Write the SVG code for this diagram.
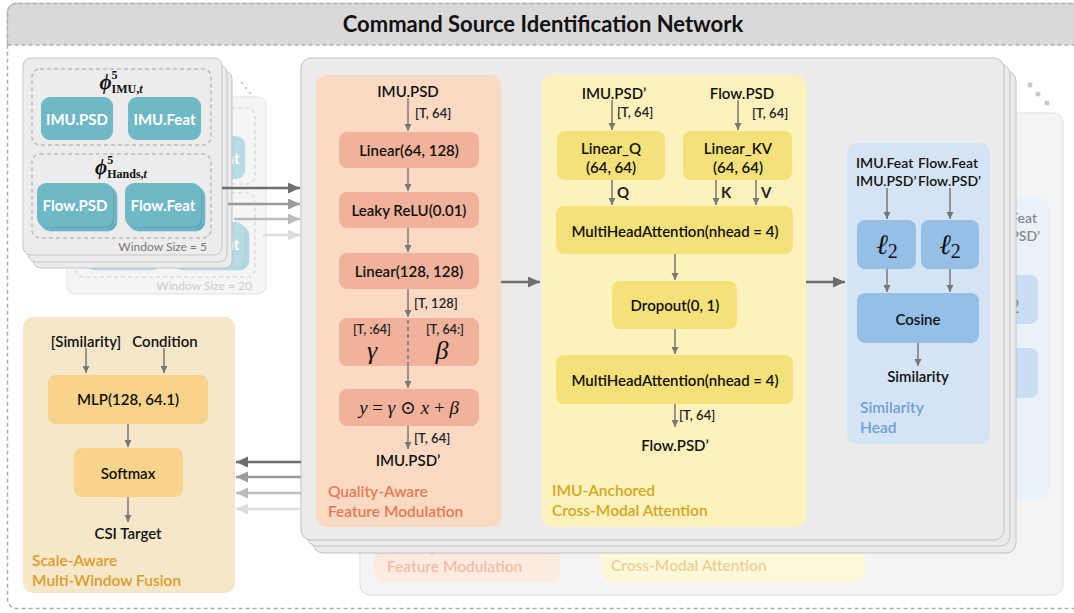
<svg xmlns="http://www.w3.org/2000/svg" xmlns:xlink="http://www.w3.org/1999/xlink" width="1074" height="613" viewBox="0 0 1074 613">
  <defs>
    <style>
      text { font-family: Lato, "Noto Sans", "DejaVu Sans", sans-serif; }
      .t { font-size: 15px; font-weight: 600; fill: #111; text-anchor: middle; dominant-baseline: central; }
      .tl { font-size: 14px; font-weight: 600; fill: #111; text-anchor: start; dominant-baseline: central; }
      .s { font-size: 13px; font-weight: 600; fill: #222; dominant-baseline: central; }
      .sc { font-size: 12.5px; font-weight: 600; fill: #222; text-anchor: middle; dominant-baseline: central; }
      .qkv { font-size: 15px; font-weight: 700; fill: #222; dominant-baseline: central; }
      .w { font-size: 15px; font-weight: 700; fill: #fff; text-anchor: middle; dominant-baseline: central; }
      .ttl { font-size: 15.5px; font-weight: 600; dominant-baseline: central; }
      .m { font-family: "Liberation Serif", "DejaVu Serif", serif; font-style: italic; fill: #111; }
      .dash { fill: none; stroke: #bdbdbd; stroke-width: 1.5; stroke-dasharray: 4 3; }
      .card { fill: #ececec; stroke: #c6c6c6; stroke-width: 1; }
      .teal { fill: #6fb8c6; }
      .teal2 { fill: #5ea8b7; stroke: #8cc8d3; stroke-width: 0.8; }
      .panel { fill: #ebebeb; stroke: #c2c2c2; stroke-width: 1; }
      .o-box { fill: #f1b29b; }
      .y-box { fill: #f5e17a; }
      .b-box { fill: #95bfe7; }
      .f-box { fill: #f8d38b; }
      .arr { fill: none; stroke: #777; stroke-width: 1.5; marker-end: url(#ah); }
      .big { fill: none; stroke-width: 2.5; }
    </style>
    <marker id="ah" markerUnits="userSpaceOnUse" markerWidth="8" markerHeight="8" refX="7" refY="3.5" orient="auto">
      <path d="M0,0 L7,3.5 L0,7 Z" fill="#777"/>
    </marker>
    <marker id="bh1" markerUnits="userSpaceOnUse" markerWidth="13" markerHeight="12" refX="12" refY="5.5" orient="auto">
      <path d="M0,0 L12,5.5 L0,11 Z" fill="#6e6e6e"/>
    </marker>
    <marker id="bh2" markerUnits="userSpaceOnUse" markerWidth="13" markerHeight="12" refX="12" refY="5.5" orient="auto">
      <path d="M0,0 L12,5.5 L0,11 Z" fill="#9a9a9a"/>
    </marker>
    <marker id="bh3" markerUnits="userSpaceOnUse" markerWidth="13" markerHeight="12" refX="12" refY="5.5" orient="auto">
      <path d="M0,0 L12,5.5 L0,11 Z" fill="#bcbcbc"/>
    </marker>
    <marker id="bh4" markerUnits="userSpaceOnUse" markerWidth="13" markerHeight="12" refX="12" refY="5.5" orient="auto">
      <path d="M0,0 L12,5.5 L0,11 Z" fill="#dcdcdc"/>
    </marker>
  </defs>

  <!-- outer frame with title band -->
  <g id="frame">
    <rect x="7.5" y="3.5" width="1080" height="605" rx="9" fill="#fff" stroke="#b0b0b0" stroke-width="1.5" stroke-dasharray="4 3"/>
    <path d="M7.5,45 V12.5 a9,9 0 0 1 9,-9 H1088 V45 Z" fill="#d9d9d9"/>
    <path d="M7.5,45 V12.5 a9,9 0 0 1 9,-9 H1088" fill="none" stroke="#b0b0b0" stroke-width="1.5" stroke-dasharray="4 3"/>
    <line x1="7.5" y1="45" x2="1074" y2="45" stroke="#b0b0b0" stroke-width="1.5" stroke-dasharray="4 3"/>
    <text x="543" y="23" text-anchor="middle" dominant-baseline="central" font-size="22" font-weight="700" fill="#111">Command Source Identification Network</text>
  </g>

  <!-- window size 20 input (behind) -->
  <g id="window-20" opacity="0.5">
    <use xlink:href="#window-5-body" transform="translate(44,39)"/>
    <text x="252" y="285" text-anchor="end" dominant-baseline="central" font-size="12" fill="#999">Window Size = 20</text>
  </g>
  <circle cx="242" cy="83" r="1.3" fill="#cfcfcf"/>
  <circle cx="246" cy="88" r="1.3" fill="#cfcfcf"/>
  <circle cx="250" cy="93" r="1.3" fill="#cfcfcf"/>

  <!-- window size 5 input stack -->
  <rect class="card" x="33" y="71" width="199" height="197" rx="8"/>
  <rect class="card" x="28" y="65" width="199" height="197" rx="8"/>
  <g id="window-5">
    <g id="window-5-body">
      <rect class="card" x="23" y="58" width="199" height="197" rx="8"/>
      <rect class="dash" x="32" y="69" width="179" height="76" rx="8"/>
      <text class="m" x="121" y="89" text-anchor="middle" font-weight="700"><tspan font-size="21">ϕ</tspan><tspan font-size="12" font-style="normal" dy="-10">5</tspan><tspan font-size="12" font-style="normal" dx="-6" dy="14">IMU,</tspan><tspan font-size="12">t</tspan></text>
      <g id="imu-psd">
        <rect class="teal" x="41" y="97" width="72" height="43" rx="9"/>
        <text class="w" x="77" y="119">IMU.PSD</text>
      </g>
      <g id="imu-feat">
        <rect class="teal" x="128" y="97" width="73" height="43" rx="9"/>
        <text class="w" x="164.5" y="119">IMU.Feat</text>
      </g>
      <rect class="dash" x="32" y="154" width="179" height="84" rx="8"/>
      <text class="m" x="121" y="174" text-anchor="middle" font-weight="700"><tspan font-size="21">ϕ</tspan><tspan font-size="12" font-style="normal" dy="-10">5</tspan><tspan font-size="12" font-style="normal" dx="-6" dy="14">Hands,</tspan><tspan font-size="12">t</tspan></text>
      <g id="flow-psd">
        <rect class="teal2" x="41" y="187" width="76" height="44" rx="9"/>
        <rect class="teal2" x="39" y="185" width="76" height="44" rx="9"/>
        <rect class="teal" x="37" y="183" width="76" height="44" rx="9"/>
        <text class="w" x="75" y="205">Flow.PSD</text>
      </g>
      <g id="flow-feat">
        <rect class="teal2" x="129" y="187" width="76" height="44" rx="9"/>
        <rect class="teal2" x="127" y="185" width="76" height="44" rx="9"/>
        <rect class="teal" x="125" y="183" width="76" height="44" rx="9"/>
        <text class="w" x="163" y="205">Flow.Feat</text>
      </g>
    </g>
    <text x="207" y="246" text-anchor="end" dominant-baseline="central" font-size="12" fill="#777">Window Size = 5</text>
  </g>

  <!-- network copies for the other window sizes (behind) -->
  <g id="csi-core-20" opacity="0.5">
    <use xlink:href="#csi-core" transform="translate(59,55)"/>
  </g>
  <circle cx="1030" cy="85" r="2.5" fill="#c8c8c8"/>
  <circle cx="1038" cy="94" r="2.5" fill="#c8c8c8"/>
  <circle cx="1047" cy="103" r="2.5" fill="#c8c8c8"/>
  <rect class="panel" x="313" y="71" width="703" height="482" rx="10" stroke="#b8b8b8"/>
  <rect class="panel" x="307" y="64" width="703" height="482" rx="10" stroke="#b8b8b8"/>

  <!-- main network -->
  <g id="csi-core">
    <rect class="panel" x="301" y="58" width="703" height="482" rx="10"/>

    <g id="qafm">
      <rect x="316" y="75" width="185" height="452" rx="10" fill="#fcd9c2"/>
      <text class="t" x="408" y="91">IMU.PSD</text>
      <g id="qafm-linear1">
        <rect class="o-box" x="339" y="132" width="140" height="36" rx="8"/>
        <text class="t" x="409" y="150">Linear(64, 128)</text>
      </g>
      <g id="qafm-relu">
        <rect class="o-box" x="339" y="192" width="140" height="36" rx="8"/>
        <text class="t" x="409" y="210">Leaky ReLU(0.01)</text>
      </g>
      <g id="qafm-linear2">
        <rect class="o-box" x="339" y="253" width="140" height="36" rx="8"/>
        <text class="t" x="409" y="271">Linear(128, 128)</text>
      </g>
      <g id="qafm-split">
        <rect class="o-box" x="339" y="318" width="140" height="48" rx="8"/>
        <line x1="408" y1="320" x2="408" y2="366" stroke="#888" stroke-width="2" stroke-dasharray="4 3"/>
        <text class="sc" x="372" y="329">[T, :64]</text>
        <text class="m" x="372" y="359" text-anchor="middle" font-size="26">γ</text>
        <text class="sc" x="445" y="329">[T, 64:]</text>
        <text class="m" x="442" y="359" text-anchor="middle" font-size="26">β</text>
      </g>
      <g id="qafm-film">
        <rect class="o-box" x="339" y="389" width="140" height="37" rx="8"/>
        <text class="m" x="409" y="414" text-anchor="middle" font-size="19">y <tspan font-style="normal">=</tspan> γ <tspan font-style="normal">⊙</tspan> x <tspan font-style="normal">+</tspan> β</text>
      </g>
      <text class="t" x="408" y="460">IMU.PSD’</text>
      <text class="ttl" x="328" y="491" fill="#e27b55">Quality-Aware</text>
      <text class="ttl" x="328" y="511" fill="#e27b55">Feature Modulation</text>
    </g>

    <g id="imca">
      <rect x="542" y="75" width="264" height="452" rx="10" fill="#fdf2bb"/>
      <text class="t" x="614" y="93">IMU.PSD’</text>
      <text class="t" x="742" y="93">Flow.PSD</text>
      <g id="imca-q">
        <rect class="y-box" x="557" y="131" width="108" height="49" rx="8"/>
        <text class="t" x="611" y="148">Linear_Q</text>
        <text class="t" x="611" y="167">(64, 64)</text>
      </g>
      <g id="imca-kv">
        <rect class="y-box" x="683" y="131" width="109" height="49" rx="8"/>
        <text class="t" x="738" y="148">Linear_KV</text>
        <text class="t" x="738" y="167">(64, 64)</text>
      </g>
      <g id="imca-mha1">
        <rect class="y-box" x="556" y="206" width="237" height="48" rx="8"/>
        <text class="t" x="675" y="231">MultiHeadAttention(nhead = 4)</text>
      </g>
      <g id="imca-dropout">
        <rect class="y-box" x="612" y="281" width="125" height="48" rx="8"/>
        <text class="t" x="675" y="305">Dropout(0, 1)</text>
      </g>
      <g id="imca-mha2">
        <rect class="y-box" x="556" y="355" width="237" height="49" rx="8"/>
        <text class="t" x="675" y="380">MultiHeadAttention(nhead = 4)</text>
      </g>
      <text class="t" x="675" y="445">Flow.PSD’</text>
      <text class="ttl" x="552" y="490" fill="#d2a81e">IMU-Anchored</text>
      <text class="ttl" x="552" y="510" fill="#d2a81e">Cross-Modal Attention</text>
    </g>

    <g id="simhead">
      <rect x="847" y="143" width="143" height="301" rx="10" fill="#d5e4f5"/>
      <text class="tl" x="856" y="162">IMU.Feat</text>
      <text class="tl" x="918" y="162">Flow.Feat</text>
      <text class="tl" x="856" y="180">IMU.PSD’</text>
      <text class="tl" x="918" y="180">Flow.PSD’</text>
      <g id="l2-imu">
        <rect class="b-box" x="857" y="220" width="59" height="49" rx="8"/>
        <text class="m" x="887" y="254" text-anchor="middle"><tspan font-size="28">ℓ</tspan><tspan font-size="20" font-style="normal" dy="4">2</tspan></text>
      </g>
      <g id="l2-flow">
        <rect class="b-box" x="921" y="220" width="58" height="49" rx="8"/>
        <text class="m" x="950" y="254" text-anchor="middle"><tspan font-size="28">ℓ</tspan><tspan font-size="20" font-style="normal" dy="4">2</tspan></text>
      </g>
      <g id="cosine">
        <rect class="b-box" x="857" y="293" width="122" height="50" rx="8"/>
        <text class="t" x="918" y="319">Cosine</text>
      </g>
      <text class="t" x="918" y="376">Similarity</text>
      <text class="ttl" x="860" y="407" fill="#6e9fd5">Similarity</text>
      <text class="ttl" x="860" y="427" fill="#6e9fd5">Head</text>
    </g>
  </g>

  <!-- multi-window fusion -->
  <g id="fusion">
    <rect x="23" y="317" width="212" height="276" rx="10" fill="#f6e7c8"/>
    <text class="t" x="86" y="341">[Similarity]</text>
    <text class="t" x="165" y="341">Condition</text>
    <g id="fusion-mlp">
      <rect class="f-box" x="48" y="375" width="160" height="49" rx="8"/>
      <text class="t" x="128" y="399">MLP(128, 64.1)</text>
    </g>
    <g id="fusion-softmax">
      <rect class="f-box" x="74" y="448" width="109" height="49" rx="8"/>
      <text class="t" x="128" y="473">Softmax</text>
    </g>
    <text class="t" x="128" y="533">CSI Target</text>
    <text class="ttl" x="32" y="560" fill="#d99e2c">Scale-Aware</text>
    <text class="ttl" x="32" y="580" fill="#d99e2c">Multi-Window Fusion</text>
  </g>

  <!-- connectors -->
  <g id="connectors">
    <!-- window features into the network -->
    <line class="big" x1="222" y1="188" x2="300" y2="188" stroke="#6e6e6e" marker-end="url(#bh1)"/>
    <line class="big" x1="228" y1="204" x2="300" y2="204" stroke="#9a9a9a" marker-end="url(#bh2)"/>
    <line class="big" x1="234" y1="219" x2="300" y2="219" stroke="#bcbcbc" marker-end="url(#bh3)"/>
    <line class="big" x1="263" y1="235" x2="300" y2="235" stroke="#dcdcdc" marker-end="url(#bh4)"/>
    <!-- similarities into fusion -->
    <line class="big" x1="301" y1="462" x2="236" y2="462" stroke="#6e6e6e" marker-end="url(#bh1)"/>
    <line class="big" x1="301" y1="477" x2="236" y2="477" stroke="#9a9a9a" marker-end="url(#bh2)"/>
    <line class="big" x1="301" y1="493" x2="236" y2="493" stroke="#bcbcbc" marker-end="url(#bh3)"/>
    <line class="big" x1="301" y1="509" x2="236" y2="509" stroke="#dcdcdc" marker-end="url(#bh4)"/>
    <!-- between modules -->
    <line class="big" x1="501" y1="282" x2="540" y2="282" stroke="#6e6e6e" marker-end="url(#bh1)"/>
    <line class="big" x1="806" y1="282" x2="845" y2="282" stroke="#6e6e6e" marker-end="url(#bh1)"/>

    <!-- quality-aware feature modulation -->
    <line class="arr" x1="408" y1="98" x2="408" y2="131"/>
    <text class="s" x="415" y="113">[T, 64]</text>
    <line class="arr" x1="408" y1="168" x2="408" y2="191"/>
    <line class="arr" x1="408" y1="228" x2="408" y2="252"/>
    <line class="arr" x1="408" y1="289" x2="408" y2="317"/>
    <text class="s" x="414" y="303">[T, 128]</text>
    <line class="arr" x1="408" y1="366" x2="408" y2="388"/>
    <line class="arr" x1="408" y1="426" x2="408" y2="449"/>
    <text class="s" x="414" y="438">[T, 64]</text>

    <!-- cross-modal attention -->
    <line class="arr" x1="612" y1="100" x2="612" y2="130"/>
    <text class="s" x="617" y="112">[T, 64]</text>
    <line class="arr" x1="738" y1="100" x2="738" y2="130"/>
    <text class="s" x="752" y="113">[T, 64]</text>
    <line class="arr" x1="612" y1="180" x2="612" y2="205"/>
    <text class="qkv" x="617" y="192">Q</text>
    <line class="arr" x1="716" y1="180" x2="716" y2="205"/>
    <text class="qkv" x="721" y="192">K</text>
    <line class="arr" x1="756" y1="180" x2="756" y2="205"/>
    <text class="qkv" x="761" y="192">V</text>
    <line class="arr" x1="675" y1="254" x2="675" y2="280"/>
    <line class="arr" x1="675" y1="329" x2="675" y2="354"/>
    <line class="arr" x1="675" y1="404" x2="675" y2="427"/>
    <text class="s" x="679" y="415">[T, 64]</text>

    <!-- similarity head -->
    <line class="arr" x1="887" y1="188" x2="887" y2="219"/>
    <line class="arr" x1="950" y1="188" x2="950" y2="219"/>
    <line class="arr" x1="887" y1="269" x2="887" y2="292"/>
    <line class="arr" x1="950" y1="269" x2="950" y2="292"/>
    <line class="arr" x1="918" y1="343" x2="918" y2="366"/>

    <!-- fusion -->
    <line class="arr" x1="86" y1="348" x2="86" y2="373"/>
    <line class="arr" x1="164" y1="348" x2="164" y2="373"/>
    <line class="arr" x1="128" y1="424" x2="128" y2="447"/>
    <line class="arr" x1="128" y1="497" x2="128" y2="522"/>
  </g>
</svg>
